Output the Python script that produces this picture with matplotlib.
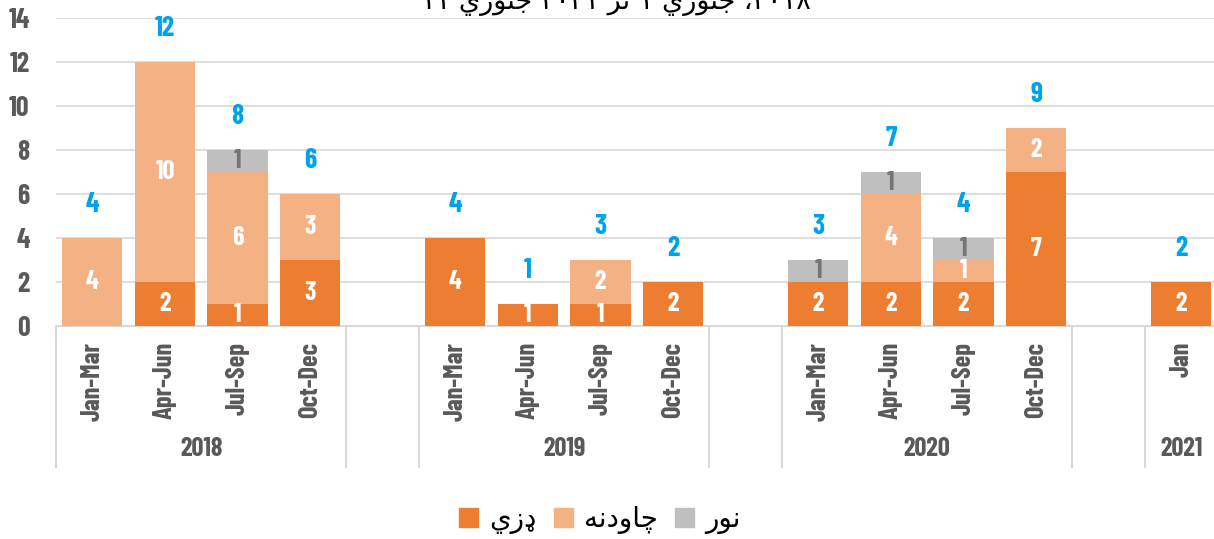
import matplotlib
matplotlib.use("Agg")
import matplotlib.pyplot as plt
from matplotlib.patches import Patch
import numpy as np

# quarters, grouped by year; empty slots separate the years
cats = ["Jan-Mar", "Apr-Jun", "Jul-Sep", "Oct-Dec", "",
        "Jan-Mar", "Apr-Jun", "Jul-Sep", "Oct-Dec", "",
        "Jan-Mar", "Apr-Jun", "Jul-Sep", "Oct-Dec", "",
        "Jan"]
years = ["2018", "", "2019", "", "2020", "", "2021"]
year_span = [(0, 4), (4, 5), (5, 9), (9, 10), (10, 14), (14, 15), (15, 16)]

shootings = [0, 2, 1, 3, 0, 4, 1, 1, 2, 0, 2, 2, 2, 7, 0, 2]
explosions = [4, 10, 6, 3, 0, 0, 0, 2, 0, 0, 0, 4, 1, 2, 0, 0]
other = [0, 0, 1, 0, 0, 0, 0, 0, 0, 0, 1, 1, 1, 0, 0, 0]

# Pashto labels, pre-shaped (presentation forms, visual left-to-right order)
lbl_shoot = "\uFEF1\uFEAF\u0689"          # ډزي
lbl_expl = "\uFEEA\uFEE7\uFEA9\uFEED\uFE8E\uFB7C"  # چاودنه
lbl_other = "\uFEAD\uFEEE\uFEE7"          # نور
jan = "\uFEF1\uFEAD\uFEEE\uFEE8\uFE9F"    # جنوري
tar = "\uFEAE\uFE97"                      # تر
title = "۱۱ " + jan + " ۲۰۲۱ " + tar + " ۱ " + jan + " ،۲۰۱۸"

c_dark = "#ED7D31"
c_light = "#F4B183"
c_grey = "#BFBFBF"
c_text = "#595959"
c_total = "#00A2E8"
cond = ["Barlow Condensed", "Roboto Condensed", "DejaVu Sans"]

fig = plt.figure(figsize=(12.14, 5.39), dpi=100)
ax = fig.add_axes([56 / 1214, 213 / 539, 1161.6 / 1214, 308 / 539])

x = np.arange(len(cats))
s = np.array(shootings)
e = np.array(explosions)
o = np.array(other)
w = 0.83
ax.bar(x, s, w, color=c_dark, zorder=3)
ax.bar(x, e, w, bottom=s, color=c_light, zorder=3)
ax.bar(x, o, w, bottom=s + e, color=c_grey, zorder=3)

for i in range(len(cats)):
    if s[i]:
        ax.text(x[i], s[i] / 2, str(s[i]), ha="center", va="center", color="white",
                fontsize=19, fontweight="bold", family=cond, zorder=4)
    if e[i]:
        ax.text(x[i], s[i] + e[i] / 2, str(e[i]), ha="center", va="center", color="white",
                fontsize=19, fontweight="bold", family=cond, zorder=4)
    if o[i]:
        ax.text(x[i], s[i] + e[i] + o[i] / 2, str(o[i]), ha="center", va="center", color="#767676",
                fontsize=19, fontweight="bold", family=cond, zorder=4)
    tot = s[i] + e[i] + o[i]
    if tot:
        ax.text(x[i], tot + 1.5, str(tot), ha="center", va="center", color=c_total,
                fontsize=20, fontweight="bold", family=cond, zorder=4)

ax.set_xlim(-0.5, len(cats) - 0.5)
ax.set_ylim(0, 14)
ax.set_yticks(range(0, 15, 2))
ax.set_yticklabels([str(v) for v in range(0, 15, 2)], family=cond, fontweight="bold",
                   fontsize=20, color=c_text)
ax.tick_params(axis="y", length=0, pad=19)
ax.set_xticks([])
ax.grid(axis="y", color="#D9D9D9", lw=1.2, zorder=0)
for sp in ["top", "right", "left"]:
    ax.spines[sp].set_visible(False)
ax.spines["bottom"].set_color("#D9D9D9")
ax.spines["bottom"].set_linewidth(1.5)

tr = ax.get_xaxis_transform()
for i, c in enumerate(cats):
    ax.text(x[i], -0.052, c, transform=tr, rotation=90, ha="center", va="top",
            family=cond, fontweight="bold", fontsize=19, color=c_text)
for yl, (a, b) in zip(years, year_span):
    if yl:
        ax.text((a + b - 1) / 2, -0.40, yl, transform=tr, ha="center", va="center",
                family=cond, fontweight="bold", fontsize=19, color=c_text)
bounds = sorted(set([a for a, b in year_span] + [b for a, b in year_span]))
for bnd in bounds:
    ax.plot([bnd - 0.5, bnd - 0.5], [0, -0.458], transform=tr, color="#D9D9D9",
            lw=1.5, clip_on=False)

fig.text(0.507, 1 - 9 / 539, title, ha="center", va="baseline", fontsize=19.5,
         family="DejaVu Sans", color="black")

handles = [Patch(color=c_dark, label=lbl_shoot),
           Patch(color=c_light, label=lbl_expl),
           Patch(color=c_grey, label=lbl_other)]
fig.legend(handles=handles, loc="center", bbox_to_anchor=(0.494, 0.036), ncol=3,
           frameon=False, prop={"family": "DejaVu Sans", "size": 20},
           handlelength=0.7, handleheight=0.7, handletextpad=0.4, columnspacing=0.6)

fig.savefig("out.png", dpi=100)
